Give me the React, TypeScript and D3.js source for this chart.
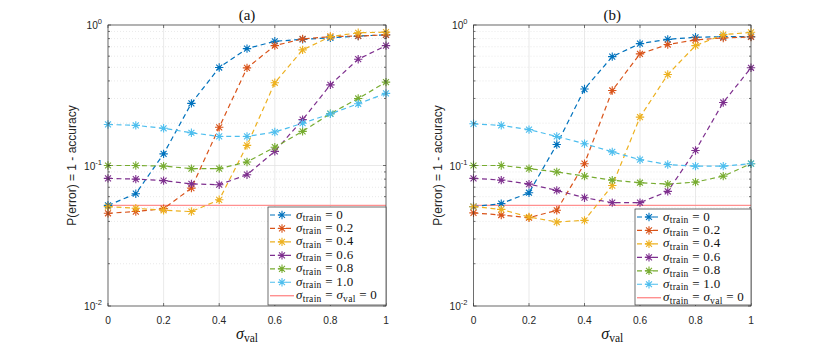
import { useEffect, useRef } from 'react';
import * as d3 from 'd3';

const width = 830;
const height = 345;

// sigma_val on the x axis
const sigmaVal = [0, 0.1, 0.2, 0.3, 0.4, 0.5, 0.6, 0.7, 0.8, 0.9, 1];
const trainLevels = ['0', '0.2', '0.4', '0.6', '0.8', '1.0'];
const colors = ['#0072BD', '#D95319', '#EDB120', '#7E2F8E', '#77AC30', '#4DBEEE'];

// panel (a)
const errA0 = [0.052, 0.063, 0.121, 0.277, 0.498, 0.679, 0.766, 0.79, 0.81, 0.835, 0.85];
const errA02 = [0.0457, 0.047, 0.0493, 0.069, 0.187, 0.495, 0.713, 0.796, 0.826, 0.835, 0.85];
const errA04 = [0.051, 0.0496, 0.048, 0.047, 0.057, 0.139, 0.388, 0.665, 0.826, 0.88, 0.89];
const errA06 = [0.081, 0.08, 0.078, 0.074, 0.073, 0.086, 0.126, 0.212, 0.375, 0.571, 0.713];
const errA08 = [0.1, 0.1, 0.099, 0.095, 0.095, 0.106, 0.135, 0.175, 0.234, 0.3, 0.392];
const errA10 = [0.196, 0.193, 0.184, 0.171, 0.161, 0.161, 0.173, 0.2, 0.233, 0.275, 0.326];

// panel (b)
const errB0 = [0.051, 0.0535, 0.064, 0.141, 0.35, 0.596, 0.737, 0.79, 0.818, 0.826, 0.826];
const errB02 = [0.046, 0.0444, 0.0425, 0.048, 0.103, 0.342, 0.623, 0.726, 0.783, 0.809, 0.822];
const errB04 = [0.051, 0.0487, 0.043, 0.0396, 0.0407, 0.072, 0.221, 0.444, 0.713, 0.854, 0.887];
const errB06 = [0.081, 0.0787, 0.0737, 0.0665, 0.059, 0.0544, 0.0544, 0.0654, 0.128, 0.281, 0.496];
const errB08 = [0.1, 0.1, 0.095, 0.09, 0.084, 0.0787, 0.0754, 0.0737, 0.0762, 0.084, 0.103];
const errB10 = [0.198, 0.193, 0.18, 0.161, 0.143, 0.125, 0.11, 0.1016, 0.099, 0.099, 0.103];

// sigma_train = sigma_val = 0 reference
const baselineErr = 0.052;

const xTicks = [0, 0.2, 0.4, 0.6, 0.8, 1];
const yDecades = [0.01, 0.1, 1];
const yDecadeExp = ['-2', '-1', '0'];

const panels = [
  { title: '(a)', left: 108, right: 386, legendTop: 207, legendWidth: 118, series: [errA0, errA02, errA04, errA06, errA08, errA10] },
  { title: '(b)', left: 473.5, right: 751, legendTop: 209, legendWidth: 116, series: [errB0, errB02, errB04, errB06, errB08, errB10] },
];

const top = 25;
const bottom = 306;
const axisColor = '#3a3a3a';
const gridColor = '#e3e3e3';
const refColor = '#ff9090';
const sans = "'Liberation Sans', Arial, sans-serif";
const serif = "'Liberation Serif', 'Times New Roman', serif";

const starPath = (r: number) => {
  const d = r * 0.7071;
  return `M${-r},0H${r}M0,${-r}V${r}M${-d},${-d}L${d},${d}M${-d},${d}L${d},${-d}`;
};

function drawPanel(svg: any, p: any) {
  const x = d3.scaleLinear().domain([0, 1]).range([p.left, p.right]);
  const y = d3.scaleLog().domain([0.01, 1]).range([bottom, top]);
  const g = svg.append('g');

  // minor y values (2..9 x decade)
  const minor: number[] = [];
  [0.01, 0.1].forEach(dec => d3.range(2, 10).forEach(k => minor.push(dec * k)));

  // grid
  g.append('g').selectAll('line').data(minor).join('line')
    .attr('x1', p.left).attr('x2', p.right)
    .attr('y1', (d: number) => y(d)).attr('y2', (d: number) => y(d))
    .attr('stroke', gridColor).attr('stroke-width', 0.8).attr('stroke-dasharray', '1,2');
  g.append('g').selectAll('line').data(yDecades).join('line')
    .attr('x1', p.left).attr('x2', p.right)
    .attr('y1', (d: number) => y(d)).attr('y2', (d: number) => y(d))
    .attr('stroke', gridColor).attr('stroke-width', 0.8);
  g.append('g').selectAll('line').data(xTicks).join('line')
    .attr('x1', (d: number) => x(d)).attr('x2', (d: number) => x(d))
    .attr('y1', top).attr('y2', bottom)
    .attr('stroke', gridColor).attr('stroke-width', 0.8);

  // reference line
  g.append('line')
    .attr('x1', p.left).attr('x2', p.right)
    .attr('y1', y(baselineErr)).attr('y2', y(baselineErr))
    .attr('stroke', refColor).attr('stroke-width', 1.4);

  // series
  const line = d3.line<number>().x((d, i) => x(sigmaVal[i])).y(d => y(d));
  p.series.forEach((vals: number[], si: number) => {
    g.append('path').datum(vals)
      .attr('d', line)
      .attr('fill', 'none')
      .attr('stroke', colors[si])
      .attr('stroke-width', 1.2)
      .attr('stroke-dasharray', '5,3.5');
    g.append('g').selectAll('path').data(vals).join('path')
      .attr('transform', (d: number, i: number) => `translate(${x(sigmaVal[i])},${y(d)})`)
      .attr('d', starPath(4.2))
      .attr('stroke', colors[si])
      .attr('stroke-width', 1.1)
      .attr('fill', 'none');
  });

  // box + ticks
  g.append('rect')
    .attr('x', p.left).attr('y', top)
    .attr('width', p.right - p.left).attr('height', bottom - top)
    .attr('fill', 'none').attr('stroke', axisColor).attr('stroke-width', 0.7);
  const tk = 3;
  xTicks.forEach(t => {
    g.append('line').attr('x1', x(t)).attr('x2', x(t)).attr('y1', bottom).attr('y2', bottom - tk)
      .attr('stroke', axisColor).attr('stroke-width', 0.7);
    g.append('line').attr('x1', x(t)).attr('x2', x(t)).attr('y1', top).attr('y2', top + tk)
      .attr('stroke', axisColor).attr('stroke-width', 0.7);
  });
  [...yDecades, ...minor].forEach(t => {
    const len = yDecades.includes(t) ? tk : 2;
    g.append('line').attr('x1', p.left).attr('x2', p.left + len).attr('y1', y(t)).attr('y2', y(t))
      .attr('stroke', axisColor).attr('stroke-width', 0.7);
    g.append('line').attr('x1', p.right).attr('x2', p.right - len).attr('y1', y(t)).attr('y2', y(t))
      .attr('stroke', axisColor).attr('stroke-width', 0.7);
  });

  // tick labels
  g.append('g').selectAll('text').data(xTicks).join('text')
    .attr('x', (d: number) => x(d)).attr('y', 324)
    .attr('text-anchor', 'middle')
    .attr('font-family', sans).attr('font-size', 10.2).attr('fill', '#262626')
    .text((d: number) => d3.format('~g')(d));
  yDecades.forEach((t, i) => {
    const txt = g.append('text')
      .attr('x', p.left - 6).attr('y', y(t) + 4)
      .attr('text-anchor', 'end')
      .attr('font-family', sans).attr('font-size', 10.2).attr('fill', '#262626');
    txt.append('tspan').text('10');
    txt.append('tspan').attr('dy', -5).attr('font-size', 7.5).text(yDecadeExp[i]);
  });

  // axis labels and title
  const cx = (p.left + p.right) / 2;
  g.append('text')
    .attr('x', cx).attr('y', 20)
    .attr('text-anchor', 'middle')
    .attr('font-family', serif).attr('font-size', 15).attr('fill', '#111')
    .text(p.title);
  g.append('text')
    .attr('transform', `translate(${p.left - 32},${(top + bottom) / 2}) rotate(-90)`)
    .attr('text-anchor', 'middle')
    .attr('font-family', sans).attr('font-size', 12).attr('fill', '#262626')
    .text('P(error) = 1 - accuracy');
  const xl = g.append('text')
    .attr('x', cx).attr('y', 339)
    .attr('text-anchor', 'middle')
    .attr('font-family', serif).attr('fill', '#111');
  xl.append('tspan').attr('font-style', 'italic').attr('font-size', 16).text('σ');
  xl.append('tspan').attr('font-size', 11.5).attr('dy', 3).text('val');

  // legend
  const lx = p.right - p.legendWidth;
  const rowH = 13.45;
  const leg = g.append('g');
  leg.append('rect')
    .attr('x', lx).attr('y', p.legendTop)
    .attr('width', p.legendWidth).attr('height', bottom - 1 - p.legendTop)
    .attr('fill', '#fff').attr('stroke', '#333').attr('stroke-width', 0.7);
  const entries = [...trainLevels.map((t, i) => ({ color: colors[i], label: t, star: true })),
    { color: refColor, label: null, star: false }];
  entries.forEach((e, i) => {
    const ry = p.legendTop + 8 + i * rowH;
    leg.append('line')
      .attr('x1', lx + 2).attr('x2', lx + 26).attr('y1', ry).attr('y2', ry)
      .attr('stroke', e.color).attr('stroke-width', e.star ? 1.2 : 1.4)
      .attr('stroke-dasharray', e.star ? '5,3' : null);
    if (e.star) {
      leg.append('path').attr('transform', `translate(${lx + 14},${ry})`)
        .attr('d', starPath(4.2)).attr('stroke', e.color).attr('stroke-width', 1.1).attr('fill', 'none');
    }
    const t = leg.append('text')
      .attr('x', lx + 28).attr('y', ry + 3.5)
      .attr('font-family', serif).attr('font-size', 13).attr('fill', '#111')
      .attr('letter-spacing', 0.3);
    t.append('tspan').attr('font-style', 'italic').text('σ');
    t.append('tspan').attr('font-size', 9.5).attr('dy', 2.5).text('train');
    if (e.label !== null) {
      t.append('tspan').attr('dy', -2.5).text(` = ${e.label}`);
    } else {
      t.append('tspan').attr('dy', -2.5).text(' = ');
      t.append('tspan').attr('font-style', 'italic').text('σ');
      t.append('tspan').attr('font-size', 9.5).attr('dy', 2.5).text('val');
      t.append('tspan').attr('dy', -2.5).text(' = 0');
    }
  });
}

const App = () => {
  const ref = useRef<SVGSVGElement>(null);
  useEffect(() => {
    const svg = d3.select(ref.current);
    svg.selectAll('*').remove();
    svg.append('rect').attr('width', width).attr('height', height).attr('fill', '#fff');
    panels.forEach(p => drawPanel(svg, p));
  }, []);

  return (
    <svg ref={ref} width={width} height={height}
      style={{ position: 'absolute', left: 0, top: 0, display: 'block' }} />
  );
};

export default App;
